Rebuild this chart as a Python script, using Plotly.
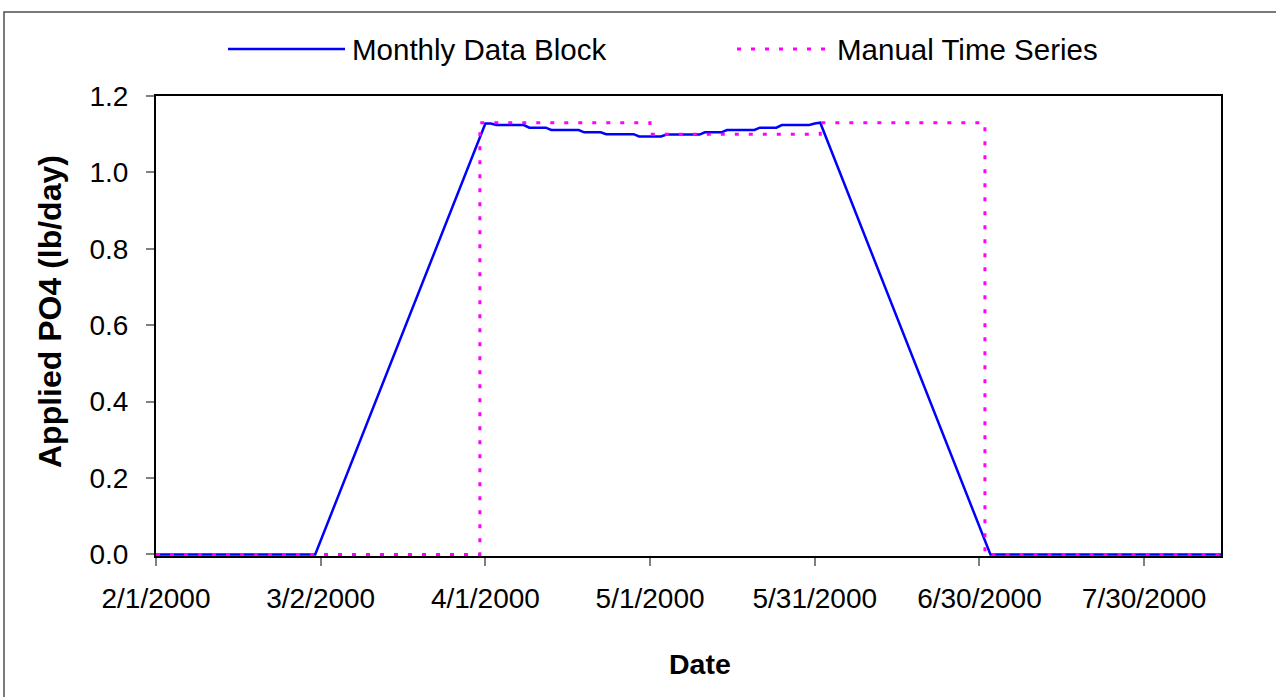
import plotly.graph_objects as go

# Monthly Data Block: daily-interpolated applied PO4 load (lb/day)
block_dates = [
    "2000-02-01", "2000-03-01", "2000-04-01", "2000-04-02", "2000-04-03",
    "2000-04-08", "2000-04-09", "2000-04-12", "2000-04-13", "2000-04-18",
    "2000-04-19", "2000-04-22", "2000-04-23", "2000-04-28", "2000-04-29",
    "2000-05-03", "2000-05-04", "2000-05-10", "2000-05-11", "2000-05-14",
    "2000-05-15", "2000-05-20", "2000-05-21", "2000-05-24", "2000-05-25",
    "2000-05-30", "2000-05-31", "2000-06-01", "2000-07-02", "2000-08-13",
]
block_values = [
    0, 0, 1.128, 1.128, 1.124,
    1.124, 1.117, 1.117, 1.111, 1.111,
    1.105, 1.105, 1.100, 1.100, 1.094,
    1.094, 1.099, 1.099, 1.105, 1.105,
    1.111, 1.111, 1.117, 1.117, 1.124,
    1.124, 1.128, 1.13, 0, 0,
]

# Manual Time Series: step values (lb/day)
manual_dates = ["2000-02-01", "2000-03-31", "2000-05-01", "2000-06-01", "2000-07-01", "2000-08-13"]
manual_values = [0, 1.13, 1.10, 1.13, 0, 0]

# Axis ticks
x_tick_dates = ["2000-02-01", "2000-03-02", "2000-04-01", "2000-05-01", "2000-05-31", "2000-06-30", "2000-07-30"]
x_tick_labels = ["2/1/2000", "3/2/2000", "4/1/2000", "5/1/2000", "5/31/2000", "6/30/2000", "7/30/2000"]
y_tick_values = [0.0, 0.2, 0.4, 0.6, 0.8, 1.0, 1.2]

series_names = ["Monthly Data Block", "Manual Time Series"]
BLUE = "#0000FF"
MAGENTA = "#FF00FF"
FONT = "Liberation Sans, Arial, sans-serif"

W, H = 1276, 697
L, R, T, B = 156, 1221, 96, 556


def px(x):
    return (x - L) / (R - L)


def py(y):
    return (B - y) / (B - T)


fig = go.Figure()
fig.add_trace(go.Scatter(
    x=block_dates, y=block_values, mode="lines", name=series_names[0],
    line=dict(color=BLUE, width=2.5), showlegend=False,
))
fig.add_trace(go.Scatter(
    x=manual_dates, y=manual_values, mode="lines", name=series_names[1],
    line=dict(color=MAGENTA, width=3, dash="4px,10px", shape="hv"), showlegend=False,
))

shapes = [
    # chart-area border
    dict(type="rect", xref="paper", yref="paper",
         x0=px(4), x1=px(1290), y0=py(710), y1=py(12),
         line=dict(color="#505050", width=1.5), layer="below"),
    # legend samples
    dict(type="line", xref="paper", yref="paper",
         x0=px(228), x1=px(345), y0=py(49), y1=py(49),
         line=dict(color=BLUE, width=2.5)),
    dict(type="line", xref="paper", yref="paper",
         x0=px(737), x1=px(830), y0=py(49), y1=py(49),
         line=dict(color=MAGENTA, width=3, dash="4px,10px")),
]

annotations = [
    dict(text=series_names[0], xref="paper", yref="paper", x=px(350), y=py(49),
         xanchor="left", yanchor="middle", showarrow=False,
         font=dict(family=FONT, size=29.5, color="black")),
    dict(text=series_names[1], xref="paper", yref="paper", x=px(835), y=py(49),
         xanchor="left", yanchor="middle", showarrow=False,
         font=dict(family=FONT, size=29.5, color="black")),
    dict(text="<b>Date</b>", xref="paper", yref="paper", x=px(700), y=py(664),
         xanchor="center", yanchor="middle", showarrow=False,
         font=dict(family=FONT, size=28.5, color="black")),
    dict(text="<b>Applied PO4 (lb/day)</b>", xref="paper", yref="paper", x=px(50), y=py(312),
         xanchor="center", yanchor="middle", textangle=-90, showarrow=False,
         font=dict(family=FONT, size=32, color="black")),
]

fig.update_layout(
    width=W, height=H,
    margin=dict(l=L, r=W - R, t=T, b=H - B, pad=0),
    paper_bgcolor="white", plot_bgcolor="white",
    font=dict(family=FONT, size=28, color="black"),
    shapes=shapes, annotations=annotations,
    showlegend=False,
)
fig.update_xaxes(
    type="date", range=["2000-02-01", "2000-08-13"],
    tickvals=x_tick_dates, ticktext=x_tick_labels,
    showgrid=False, zeroline=False,
    showline=True, linecolor="black", linewidth=2, mirror=True,
    ticks="outside", ticklen=8, tickwidth=2, tickcolor="#808080",
    ticklabelstandoff=8,
    tickfont=dict(family=FONT, size=28, color="black"),
)
fig.update_yaxes(
    range=[-0.004, 1.2], tickvals=y_tick_values, tickformat=".1f",
    showgrid=False, zeroline=False,
    showline=True, linecolor="black", linewidth=2, mirror=True,
    ticks="outside", ticklen=8, tickwidth=2, tickcolor="#808080",
    ticklabelstandoff=12,
    tickfont=dict(family=FONT, size=28, color="black"),
)

fig.write_html("out.html")
